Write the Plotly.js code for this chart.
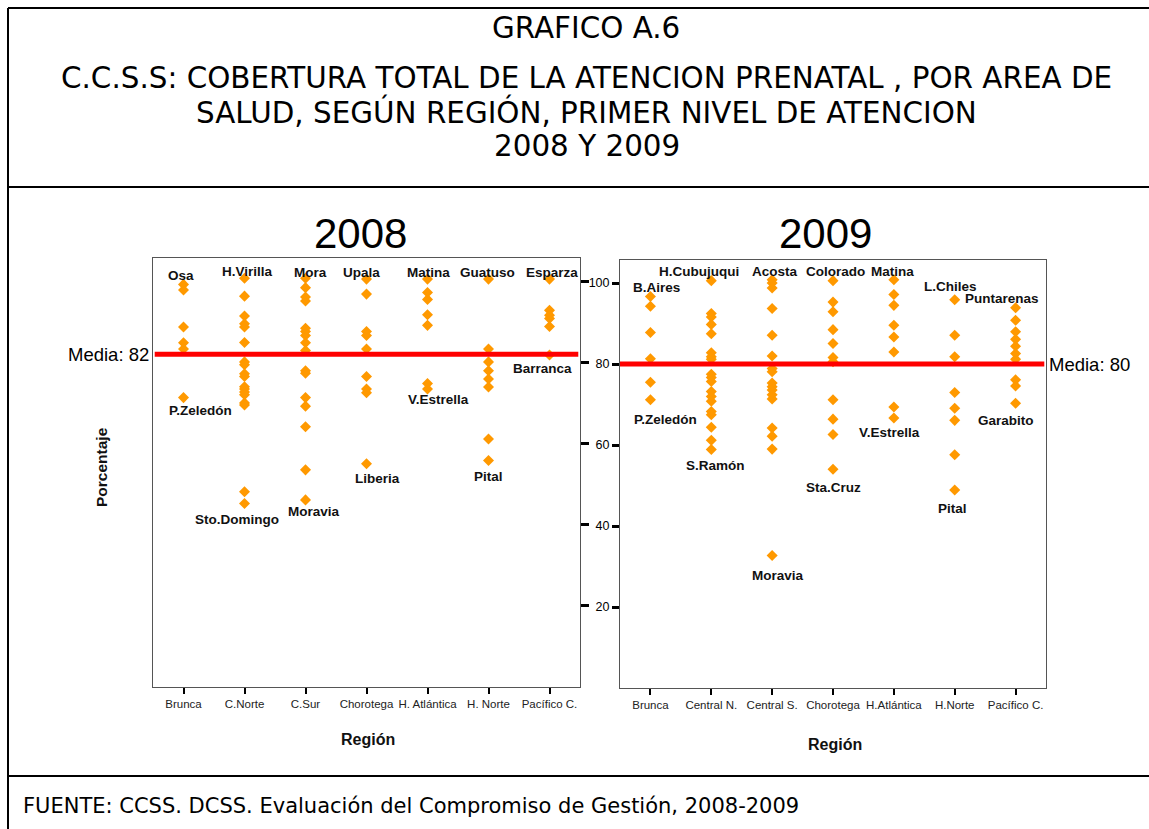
<!DOCTYPE html>
<html><head><meta charset="utf-8">
<script src="https://cdn.plot.ly/plotly-3.0.1.min.js"></script>
<style>html,body{margin:0;padding:0;background:#fff}</style>
</head><body><div id="chart" style="width:1149px;height:829px"></div>
<script>
// ---------- DATA ----------
const regions2008 = ["Brunca","C.Norte","C.Sur","Chorotega","H. Atlántica","H. Norte","Pacífico C."];
const regions2009 = ["Brunca","Central N.","Central S.","Chorotega","H.Atlántica","H.Norte","Pacífico C."];

const brunca2008     = [99.2, 97.8, 88.7, 84.8, 83.3, 71.3];
const cNorte2008     = [100.7, 96.3, 91.4, 89.5, 88.7, 84.9, 80.1, 79.4, 77.2, 76.5, 74.0, 73.4, 72.7, 72.0, 70.0, 69.5, 48.1, 45.2];
const cSur2008       = [100.7, 98.4, 96.1, 95.1, 88.4, 87.6, 86.6, 84.8, 82.9, 77.9, 77.3, 71.3, 69.2, 64.1, 53.5, 46.1];
const chorotega2008  = [100.5, 96.8, 87.6, 86.6, 83.3, 76.5, 73.4, 72.5, 55.0];
const hAtlantica2008 = [100.5, 97.2, 95.5, 91.7, 89.1, 74.8, 73.4];
const hNorte2008     = [100.5, 83.3, 80.1, 77.9, 75.9, 73.9, 61.1, 55.8];
const pacifico2008   = [100.5, 92.8, 91.6, 90.8, 88.8, 81.8];

const brunca2009     = [96.7, 94.3, 87.8, 81.3, 75.5, 71.2];
const cNorte2009     = [100.6, 92.5, 91.6, 89.8, 87.5, 82.8, 81.8, 81.2, 77.5, 76.7, 75.7, 73.2, 72.0, 70.8, 68.3, 67.5, 64.4, 61.2, 58.9];
const cSur2009       = [100.8, 100.0, 98.8, 93.7, 87.1, 82.0, 78.9, 78.1, 75.3, 74.4, 73.6, 72.4, 71.4, 64.2, 62.2, 59.0, 32.7];
const chorotega2009  = [100.6, 95.3, 92.9, 88.5, 85.1, 81.6, 80.6, 71.2, 66.4, 62.6, 54.0];
const hAtlantica2009 = [100.8, 97.2, 94.5, 89.6, 86.7, 83.0, 69.4, 66.7];
const hNorte2009     = [95.9, 87.1, 81.8, 73.0, 69.1, 66.1, 57.6, 48.9];
const pacifico2009   = [93.9, 90.8, 88.0, 86.1, 84.4, 82.6, 81.2, 76.1, 74.6, 70.3];

const topLabels2008    = ["Osa","H.Virilla","Mora","Upala","Matina","Guatuso","Esparza"];
const bottomLabels2008 = ["P.Zeledón","Sto.Domingo","Moravia","Liberia","V.Estrella","Pital","Barranca"];
const topLabels2009    = ["B.Aires","H.Cubujuqui","Acosta","Colorado","Matina","L.Chiles","Puntarenas"];
const bottomLabels2009 = ["P.Zeledón","S.Ramón","Moravia","Sta.Cruz","V.Estrella","Pital","Garabito"];

const mean2008 = 82;
const mean2009 = 80;
const yTicks = [20, 40, 60, 80, 100];

// ---------- BUILD ----------
const values2008 = [brunca2008, cNorte2008, cSur2008, chorotega2008, hAtlantica2008, hNorte2008, pacifico2008];
const values2009 = [brunca2009, cNorte2009, cSur2009, chorotega2009, hAtlantica2009, hNorte2009, pacifico2009];

const W = 1149, H = 829;
const px = x => x / W;
const py = y => 1 - y / H;
const ORANGE = 'rgb(255,153,0)';
const ARIAL = 'Liberation Sans, Arial, sans-serif';
const VERD = 'DejaVu Sans, Verdana, sans-serif';

function flatten(regions, values) {
  const xs = [], ys = [];
  regions.forEach((r, i) => values[i].forEach(v => { xs.push(r); ys.push(v); }));
  return {xs, ys};
}
const d08 = flatten(regions2008, values2008);
const d09 = flatten(regions2009, values2009);

const traces = [
  {x: d08.xs, y: d08.ys, xaxis: 'x', yaxis: 'y', type: 'scatter', mode: 'markers',
   marker: {symbol: 'diamond', size: 8.5, color: ORANGE}, hoverinfo: 'x+y'},
  {x: d09.xs, y: d09.ys, xaxis: 'x2', yaxis: 'y2', type: 'scatter', mode: 'markers',
   marker: {symbol: 'diamond', size: 8.5, color: ORANGE}, hoverinfo: 'x+y'}
];

// label offsets (pixels) relative to the top / bottom point of each region
const topOff2008 = [[-3,-9],[2.5,-7],[4.5,-6],[-5.5,-7],[0.8,-7],[-1,-7],[2,-7]];
const botOff2008 = [[16.5,13],[-7.5,16],[8.5,12],[10.5,15],[10.8,10.7],[0,15.7],[-7,14]];
const topOff2009 = [[6,-9.4],[-12,-9.4],[2.5,-8.7],[2,-9.4],[-1,-8.7],[-4,-12.7],[-14,-9.7]];
const botOff2009 = [[15,20],[4,15.6],[6,20],[0,18.3],[-4,15],[-2.7,18.7],[-10,16.7]];

const annotations = [];
function pointLabels(regions, values, tops, bots, tOff, bOff, xr, yr) {
  regions.forEach((r, i) => {
    const mx = Math.max(...values[i]), mn = Math.min(...values[i]);
    annotations.push({x: r, y: mx, xref: xr, yref: yr, text: '<b>' + tops[i] + '</b>', showarrow: false,
      xshift: tOff[i][0], yshift: -tOff[i][1], xanchor: 'center', yanchor: 'middle',
      font: {family: ARIAL, size: 13.5, color: '#111'}});
    annotations.push({x: r, y: mn, xref: xr, yref: yr, text: '<b>' + bots[i] + '</b>', showarrow: false,
      xshift: bOff[i][0], yshift: -bOff[i][1], xanchor: 'center', yanchor: 'middle',
      font: {family: ARIAL, size: 13.5, color: '#111'}});
  });
}
pointLabels(regions2008, values2008, topLabels2008, bottomLabels2008, topOff2008, botOff2008, 'x', 'y');
pointLabels(regions2009, values2009, topLabels2009, bottomLabels2009, topOff2009, botOff2009, 'x2', 'y2');

function paperText(text, x, y, font, extra) {
  annotations.push(Object.assign({xref: 'paper', yref: 'paper', x: px(x), y: py(y), text: text,
    showarrow: false, xanchor: 'center', yanchor: 'middle', font: font}, extra || {}));
}
const titleFont = {family: VERD, size: 29.4, color: '#000'};
paperText('GRAFICO A.6', 586, 28, titleFont);
paperText('C.C.S.S: COBERTURA TOTAL DE LA ATENCION PRENATAL , POR AREA DE', 586, 78, titleFont);
paperText('SALUD, SEGÚN REGIÓN, PRIMER NIVEL DE ATENCION', 586, 112, titleFont);
paperText('2008 Y 2009', 587, 146, titleFont);
paperText('FUENTE: CCSS. DCSS. Evaluación del Compromiso de Gestión, 2008-2009', 21, 806,
  {family: VERD, size: 21, color: '#000'}, {xanchor: 'left'});
paperText('2008', 360, 233, {family: ARIAL, size: 42, color: '#000'});
paperText('2009', 825, 233, {family: ARIAL, size: 42, color: '#000'});
paperText('<b>Región</b>', 368, 739, {family: ARIAL, size: 16, color: '#111'});
paperText('<b>Región</b>', 835, 744, {family: ARIAL, size: 16, color: '#111'});
paperText('<b>Porcentaje</b>', 101, 467, {family: ARIAL, size: 15.5, color: '#111'}, {textangle: -90});

annotations.push({xref: 'paper', yref: 'y', x: px(108), y: mean2008, text: 'Media: ' + mean2008,
  showarrow: false, xanchor: 'center', yanchor: 'middle', font: {family: ARIAL, size: 18.5, color: '#000'}});
annotations.push({xref: 'paper', yref: 'y2', x: px(1089), y: mean2009, text: 'Media: ' + mean2009,
  showarrow: false, xanchor: 'center', yanchor: 'middle', font: {family: ARIAL, size: 18.5, color: '#000'}});

const shapes = [
  {type: 'line', xref: 'x domain', yref: 'y', x0: 0.004, x1: 0.996, y0: mean2008, y1: mean2008, line: {color: 'rgb(255,0,0)', width: 5}},
  {type: 'line', xref: 'x2 domain', yref: 'y2', x0: 0.0, x1: 0.996, y0: mean2009, y1: mean2009, line: {color: 'rgb(255,0,0)', width: 5}},
  // frame lines
  {type: 'line', xref: 'paper', yref: 'paper', x0: px(8), x1: px(8), y0: py(8), y1: 0, line: {color: '#000', width: 2}},
  {type: 'line', xref: 'paper', yref: 'paper', x0: px(8), x1: 1, y0: py(8), y1: py(8), line: {color: '#000', width: 2}},
  {type: 'line', xref: 'paper', yref: 'paper', x0: px(8), x1: 1, y0: py(187), y1: py(187), line: {color: '#000', width: 2}},
  {type: 'line', xref: 'paper', yref: 'paper', x0: px(8), x1: 1, y0: py(776), y1: py(776), line: {color: '#000', width: 2}}
];

const xBase = {type: 'category', range: [-0.5, 6.5], showline: true, mirror: true, linecolor: '#555', linewidth: 1,
  ticks: 'outside', ticklen: 6, tickwidth: 2, tickcolor: '#000', showgrid: false, zeroline: false, fixedrange: true,
  tickfont: {family: ARIAL, size: 11.5, color: '#222'}};
const yBase = {range: [0, 105.7], tickvals: yTicks, showline: true, mirror: true, linecolor: '#555', linewidth: 1,
  ticks: 'outside', tickwidth: 3, tickcolor: '#000', showgrid: false, zeroline: false, fixedrange: true,
  tickfont: {family: ARIAL, size: 12.5, color: '#000'}};

const layout = {
  width: W, height: H, margin: {l: 0, r: 0, t: 0, b: 0},
  paper_bgcolor: '#fff', plot_bgcolor: '#fff', showlegend: false,
  xaxis: Object.assign({}, xBase, {domain: [px(153), px(580)], anchor: 'y', categoryarray: regions2008, categoryorder: 'array'}),
  yaxis: Object.assign({}, yBase, {domain: [py(687), py(258)], anchor: 'x', side: 'right', ticklen: 8, showticklabels: false}),
  xaxis2: Object.assign({}, xBase, {domain: [px(620), px(1046)], anchor: 'y2', categoryarray: regions2009, categoryorder: 'array'}),
  yaxis2: Object.assign({}, yBase, {domain: [py(688), py(260)], anchor: 'x2', side: 'left', ticklen: 7}),
  annotations: annotations,
  shapes: shapes
};

Plotly.newPlot('chart', traces, layout, {displayModeBar: false, staticPlot: true});
</script></body></html>
